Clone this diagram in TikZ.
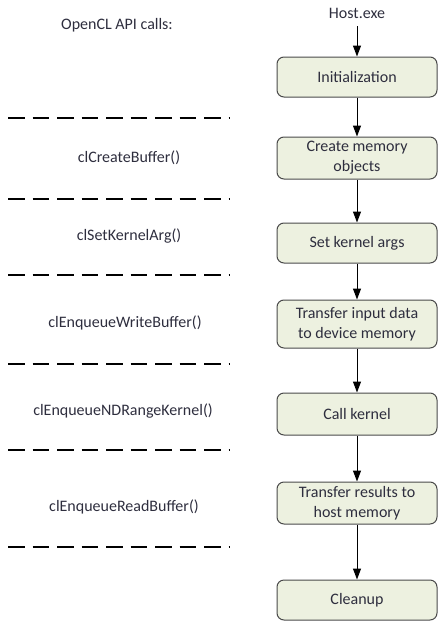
\documentclass[tikz,border=0pt]{standalone}
\usepackage{fontspec}
\setmainfont{Carlito}
\usetikzlibrary{arrows.meta}
\definecolor{boxfill}{HTML}{EDF1E0}
\definecolor{boxedge}{HTML}{4A4A4A}
\definecolor{txt}{HTML}{2E2E3E}
\tikzset{
  stepbox/.style={draw=boxedge, line width=1pt, fill=boxfill, rounded corners=7pt,
    minimum width=160pt, inner sep=0pt, align=center, text=txt,
    font=\fontsize{16}{20}\selectfont},
  apicall/.style={text=txt, font=\fontsize{16}{20}\selectfont, inner sep=0pt},
  flow/.style={line width=1pt, -{Triangle[width=8pt,length=11pt]}},
  sep/.style={line width=1.8pt, dash pattern=on 16.5pt off 8pt}
}
\begin{document}
\begin{tikzpicture}[x=1pt,y=-1pt]
  \useasboundingbox (0,0) rectangle (440,621);
  % flow of the host program
  \node[apicall] (host) at (357,13) {Host.exe};
  \node[stepbox, minimum height=40pt] (init) at (357,77) {Initialization};
  \node[stepbox, minimum height=42pt] (mem) at (357,158) {Create memory\\objects};
  \node[stepbox, minimum height=40pt] (args) at (357,243) {Set kernel args};
  \node[stepbox, minimum height=48pt] (write) at (357,324) {Transfer input data\\to device memory};
  \node[stepbox, minimum height=42pt] (call) at (357,414) {Call kernel};
  \node[stepbox, minimum height=42pt] (read) at (357,503) {Transfer results to\\host memory};
  \node[stepbox, minimum height=40pt] (clean) at (357,600) {Cleanup};
  \coordinate (hs) at (357,26);
  \draw[flow] (hs) -- (init);
  \draw[flow] (init) -- (mem);
  \draw[flow] (mem) -- (args);
  \draw[flow] (args) -- (write);
  \draw[flow] (write) -- (call);
  \draw[flow] (call) -- (read);
  \draw[flow] (read) -- (clean);
  % matching API calls
  \node[apicall] (title) at (117,25) {OpenCL API calls:};
  \node[apicall] (c1) at (129,158) {clCreateBuffer()};
  \node[apicall] (c2) at (129,236) {clSetKernelArg()};
  \node[apicall] (c3) at (125,323) {clEnqueueWriteBuffer()};
  \node[apicall] (c4) at (123,411) {clEnqueueNDRangeKernel()};
  \node[apicall] (c5) at (124,507) {clEnqueueReadBuffer()};
  % separators between the calls
  \foreach \yy/\nm in {118/s1,199/s2,275/s3,364/s4,450/s5,547/s6}{
    \coordinate (\nm a) at (8,\yy);
    \coordinate (\nm b) at (230,\yy);
    \draw[sep] (\nm a) -- (\nm b);
  }
\end{tikzpicture}
\end{document}
